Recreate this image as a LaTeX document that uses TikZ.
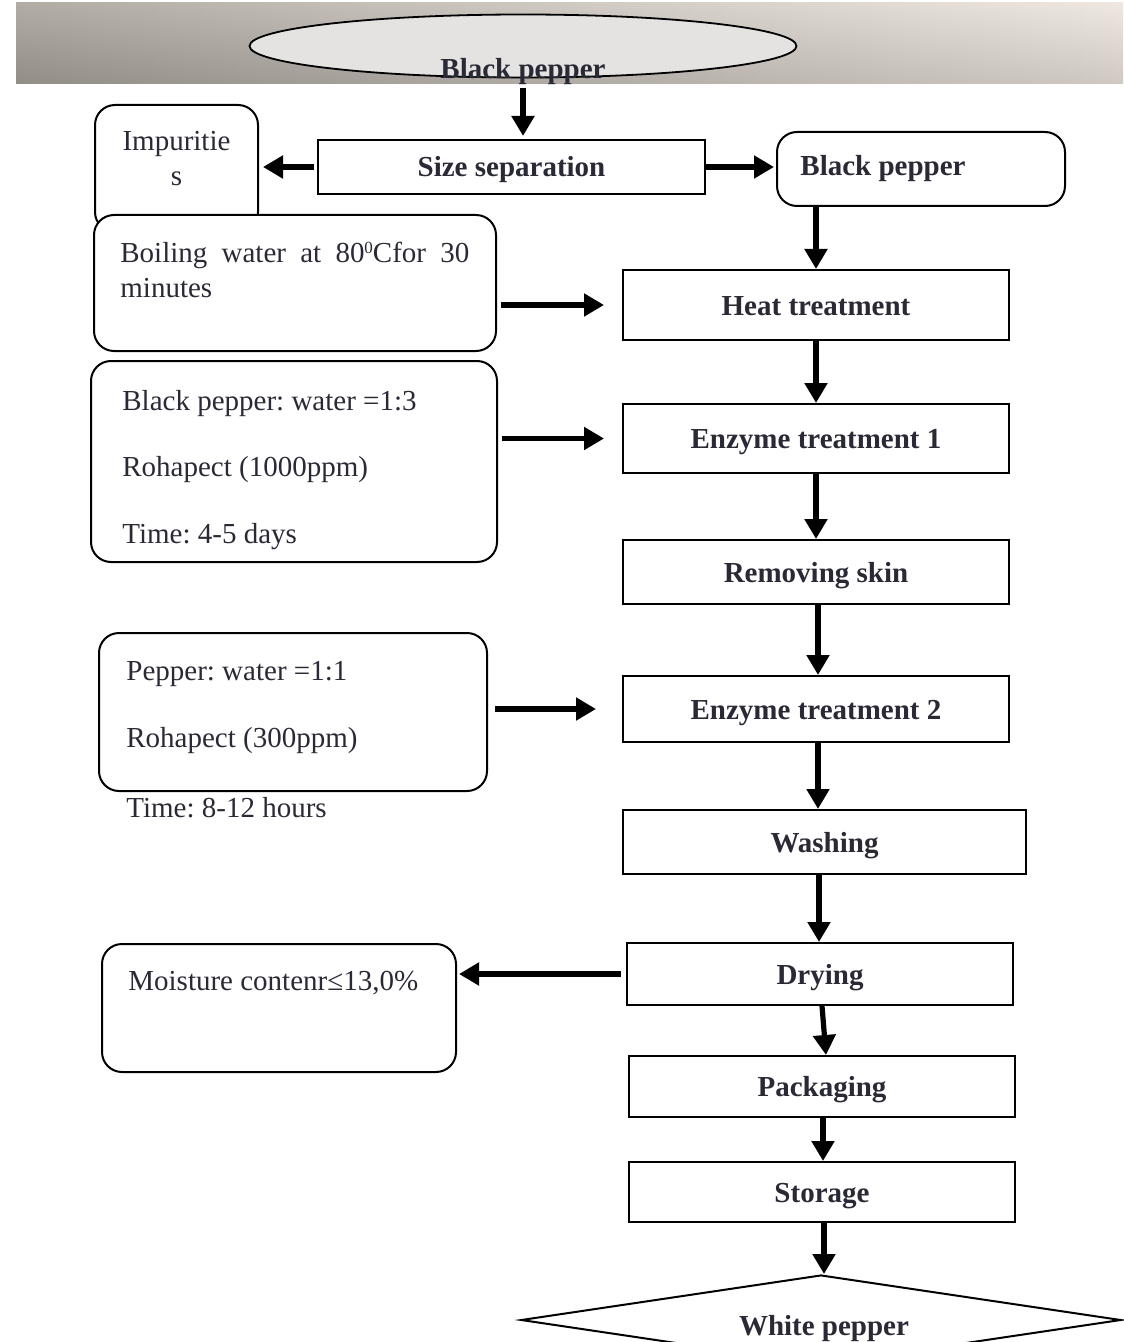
\documentclass[tikz,border=0pt]{standalone}
\usepackage{fontspec}
\setmainfont{Liberation Serif}
\usetikzlibrary{arrows.meta,shapes.geometric}
\definecolor{txt}{RGB}{42,42,54}
\definecolor{bannerL}{RGB}{168,161,155}
\definecolor{bannerR}{RGB}{236,229,221}
\definecolor{ellfill}{RGB}{229,227,225}
\newcommand{\supzero}{\raisebox{4.5pt}{\fontsize{8.5}{9}\selectfont 0}}
\begin{document}
\frenchspacing
\begin{tikzpicture}[x=0.5pt,y=-0.5pt,
  font=\fontsize{14.5}{17.5}\selectfont, text=txt,
  proc/.style={draw, line width=1pt, fill=white, inner sep=0pt, text height=12pt, text depth=2pt, font=\fontsize{14.5}{17.5}\selectfont\bfseries},
  note/.style={draw, line width=1pt, rounded corners=10pt, fill=white, inner sep=0pt},
  plain/.style={inner sep=0pt, anchor=west},
  flow/.style={line width=2.6pt, -{Triangle[length=10pt,width=11pt]}}]
\useasboundingbox (0,0) rectangle (1123,1342);
% banner
\shade[left color=bannerL, right color=bannerR] (16,3) rectangle (1123,84);
\shade[top color=white, bottom color=black, opacity=0.12] (16,3) rectangle (1123,84);
% top ellipse
\node[ellipse, draw, line width=0.9pt, fill=ellfill, minimum width=273.5pt, minimum height=31.5pt, inner sep=0pt] (ell) at (523,46) {};
\node[inner sep=0pt, font=\fontsize{14.5}{17.5}\selectfont\bfseries] (bptext) at (523,72) {Black pepper};
% process boxes
\node[proc, minimum width=193.5pt, minimum height=27pt] (sizesep) at (511.5,167) {Size separation};
\node[note, minimum width=144pt, minimum height=37pt] (bpr) at (921,169) {};
\node[plain, font=\fontsize{14.5}{17.5}\selectfont\bfseries] (bprtext) at (800,169) {Black pepper};
\node[note, minimum width=81.5pt, minimum height=63.5pt] (impur) at (176.5,168.5) {};
\node[inner sep=0pt, align=center] (imptext) at (176.5,159) {Impuritie\\s};
\node[note, minimum width=201pt, minimum height=68pt] (boil) at (295,283) {};
\node[inner sep=0pt, anchor=north west, text width=174.5pt, align=justify] (boiltext) at (120,242) {Boiling water at 80\supzero Cfor 30 minutes};
\node[proc, minimum width=193pt, minimum height=35pt] (heat) at (816,305) {Heat treatment};
\node[note, minimum width=203pt, minimum height=100.5pt] (mix1) at (294,461.5) {};
\node[plain] (m1a) at (122,404) {Black pepper: water =1:3};
\node[plain] (m1b) at (122,470) {Rohapect (1000ppm)};
\node[plain] (m1c) at (122,537) {Time: 4-5 days};
\node[proc, minimum width=193pt, minimum height=34.5pt] (enz1) at (816,438.5) {Enzyme treatment 1};
\node[proc, minimum width=193pt, minimum height=32pt] (skin) at (816,572) {Removing skin};
\node[note, minimum width=194pt, minimum height=79pt] (mix2) at (293,712) {};
\node[plain] (m2a) at (126,674) {Pepper: water =1:1};
\node[plain] (m2b) at (126,741) {Rohapect (300ppm)};
\node[plain] (m2c) at (126,808) {Time: 8-12 hours};
\node[proc, minimum width=193pt, minimum height=33pt] (enz2) at (816,709) {Enzyme treatment 2};
\node[proc, minimum width=201.5pt, minimum height=32pt] (wash) at (824.5,842) {Washing};
\node[proc, minimum width=193pt, minimum height=31pt] (dry) at (820,974) {Drying};
\node[note, minimum width=177pt, minimum height=64pt] (moist) at (279,1008) {};
\node[plain] (moisttext) at (128,983) {Moisture contenr≤13,0\%};
\node[proc, minimum width=193pt, minimum height=30.5pt] (pack) at (822,1086.5) {Packaging};
\node[proc, minimum width=193pt, minimum height=30pt] (store) at (822,1192) {Storage};
\node[diamond, draw, line width=1pt, fill=white, aspect=6.67, minimum width=300pt, minimum height=45pt, inner sep=0pt] (white) at (821,1320) {};
\node[inner sep=0pt, font=\fontsize{14.5}{17.5}\selectfont\bfseries] (whitetext) at (824,1329) {White pepper};
% connectors
\draw[flow, shorten <=1pt, shorten >=1.5pt] (bptext.south) -- (bptext.south |- sizesep.north);
\draw[flow, shorten <=1.5pt, shorten >=2pt] (sizesep.west) -- (impur.east |- sizesep.west);
\draw[flow, shorten >=1pt] (sizesep.east) -- (bpr.west |- sizesep.east);
\draw[flow] (heat.north |- bpr.south) -- (heat.north);
\draw[flow, shorten <=2pt, shorten >=9pt] (boil.east |- heat.west) -- (heat.west);
\draw[flow] (heat.south) -- (enz1.north);
\draw[flow, shorten <=2pt, shorten >=9pt] (mix1.east |- enz1.west) -- (enz1.west);
\draw[flow] (enz1.south) -- (skin.north);
\draw[flow] ([xshift=1pt]skin.south) -- ([xshift=1pt]enz2.north);
\draw[flow, shorten <=3.5pt, shorten >=13pt] (mix2.east |- enz2.west) -- (enz2.west);
\draw[flow] ([xshift=1pt]enz2.south) -- ([xshift=1pt]enz2.south |- wash.north);
\draw[flow] ([xshift=-0.5pt]dry.north |- wash.south) -- ([xshift=-0.5pt]dry.north);
\draw[flow, shorten <=2.5pt, shorten >=1pt] (dry.west) -- (moist.east |- dry.west);
\draw[flow] ([xshift=1pt]dry.south) -- ([xshift=2pt]pack.north);
\draw[flow] ([xshift=0.5pt]pack.south) -- ([xshift=0.5pt]store.north);
\draw[flow] ([xshift=1pt]store.south) -- ([xshift=1.5pt]white.north);
\end{tikzpicture}
\end{document}
